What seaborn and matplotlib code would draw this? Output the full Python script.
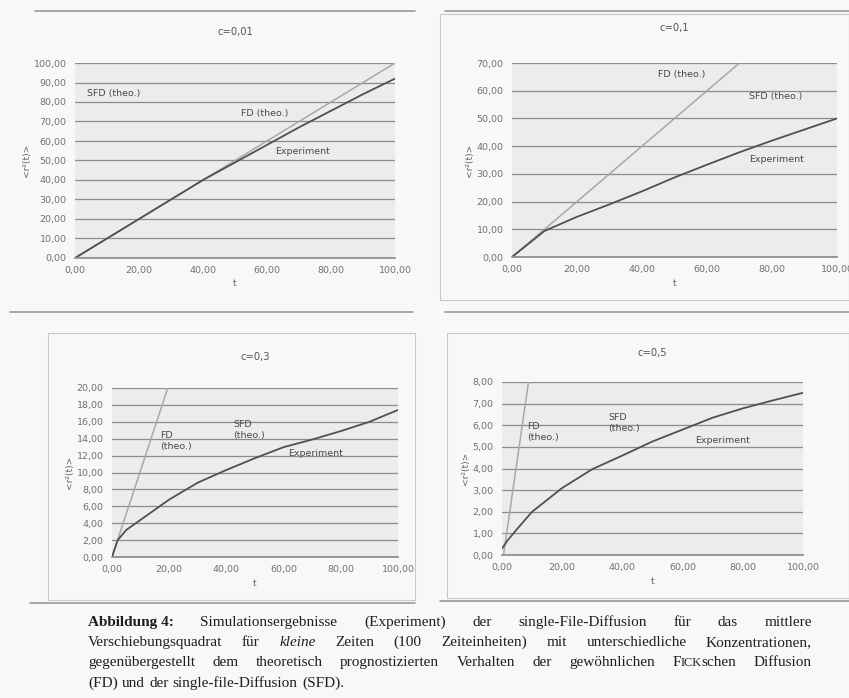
import numpy as np
import pandas as pd
import seaborn as sns
import matplotlib.pyplot as plt
from matplotlib.lines import Line2D
from matplotlib.patches import Rectangle

# ---- data ----
titles = ['c=0,01', 'c=0,1', 'c=0,3', 'c=0,5']

t1 = [0, 10, 20, 30, 40, 50, 60, 70, 80, 90, 100]
exp1 = [0, 10, 20, 30, 40, 49, 58, 67, 75.5, 84, 92]
fd1_t = [0, 100]
fd1 = [0, 100]

t2 = [0, 10, 20, 30, 40, 50, 60, 70, 80, 90, 100]
exp2 = [0, 9.4, 14.5, 19, 23.7, 28.7, 33.3, 37.8, 42, 46, 50]
fd2_t = [0, 70]
fd2 = [0, 70]

t3 = [0, 2, 5, 10, 15, 20, 30, 40, 50, 60, 70, 80, 90, 100]
exp3 = [0, 2.0, 3.2, 4.4, 5.6, 6.8, 8.8, 10.3, 11.7, 13.0, 13.9, 14.9, 16.0, 17.4]
fd3_t = [0, 19.5]
fd3 = [0, 20]

t4 = [0, 2, 5, 10, 20, 30, 40, 50, 60, 70, 80, 90, 100]
exp4 = [0.3, 0.7, 1.2, 2.0, 3.1, 3.97, 4.6, 5.25, 5.8, 6.35, 6.78, 7.15, 7.5]
fd4_t = [0.5, 8.8]
fd4 = [0, 8]

ymax = [100, 70, 20, 8]
ystep = [10, 10, 2, 1]

# label positions (t, value) for the in-plot annotations
lab_fd = [(52, 74), (45, 65.7), (17, 13.7), (8.5, 5.7)]
lab_sfd = [(3.6, 84.6), (73, 57.9), (42.4, 15), (35.4, 6.1)]
lab_exp = [(62.5, 54.5), (73, 35.2), (61.6, 12.2), (64, 5.3)]

sns.set_theme(style='white')
plt.rcParams['font.family'] = ['DejaVu Sans']

W, H = 849, 698
fig = plt.figure(figsize=(W / 100, H / 100), dpi=100, facecolor='#f8f8f6')

def px_rect(l, t, r, b):
    return [l / W, 1 - b / H, (r - l) / W, (b - t) / H]

rects = [px_rect(75, 63, 395, 258), px_rect(512, 63, 837, 257),
         px_rect(112, 388, 398, 557), px_rect(502, 382, 803, 555)]
title_y = [32, 28, 357, 353]
two_line = [False, False, True, True]

series = [(t1, exp1, fd1_t, fd1), (t2, exp2, fd2_t, fd2),
          (t3, exp3, fd3_t, fd3), (t4, exp4, fd4_t, fd4)]

tick_fmt = lambda v: f'{v:.2f}'.replace('.', ',')

for i, r in enumerate(rects):
    ax = fig.add_axes(r)
    ax.set_facecolor('#ececea')
    t, e, ft, f = series[i]
    exp_df = pd.DataFrame({'t': t, 'r2': e})
    fd_df = pd.DataFrame({'t': ft, 'r2': f})
    sns.lineplot(data=fd_df, x='t', y='r2', ax=ax, color='#a8a8a8', lw=1.1)
    sns.lineplot(data=exp_df, x='t', y='r2', ax=ax, color='#505050', lw=1.3)
    ax.set_xlim(0, 100)
    ax.set_ylim(0, ymax[i])
    yt = np.arange(0, ymax[i] + 0.001, ystep[i])
    ax.set_yticks(yt)
    ax.set_yticklabels([tick_fmt(v) for v in yt])
    xt = np.arange(0, 101, 20)
    ax.set_xticks(xt)
    ax.set_xticklabels([tick_fmt(v) for v in xt])
    ax.tick_params(labelsize=6.8, colors='#707070', length=0, pad=6)
    ax.yaxis.grid(True, color='#8c8c8c', lw=0.9)
    ax.set_axisbelow(True)
    for s in ['top', 'right', 'left']:
        ax.spines[s].set_visible(False)
    ax.spines['bottom'].set_color('#8c8c8c')
    ax.set_xlabel('t', fontsize=6.5, color='#606060', labelpad=3)
    ax.set_ylabel('<r²(t)>', fontsize=6.5, color='#606060', labelpad=2)
    fig.text((r[0] + r[2] / 2), 1 - title_y[i] / H, titles[i],
             ha='center', va='center', fontsize=7.2, color='#555555')
    fd_txt = 'FD\n(theo.)' if two_line[i] else 'FD (theo.)'
    sfd_txt = 'SFD\n(theo.)' if two_line[i] else 'SFD (theo.)'
    kw = dict(fontsize=6.8, color='#4a4a4a', va='center', ha='left',
              linespacing=1.3)
    ax.text(*lab_fd[i], fd_txt, **kw)
    ax.text(*lab_sfd[i], sfd_txt, **kw)
    ax.text(*lab_exp[i], 'Experiment', **kw)

# scan artefacts: separator rules and frames of the pasted charts
def hline(y, x0, x1, c='#9a9a9a', lw=1.2):
    fig.add_artist(Line2D([x0 / W, x1 / W], [1 - y / H, 1 - y / H],
                          color=c, lw=lw))

hline(11, 35, 415)
hline(11, 445, 849)
hline(312, 10, 413)
hline(312, 445, 849)
hline(603, 30, 415)
hline(601, 440, 849)
for l, t, rr, b in [(48, 333, 415, 600), (447, 333, 849, 598), (440, 14, 849, 300)]:
    fig.add_artist(Rectangle((l / W, 1 - b / H), (rr - l) / W, (b - t) / H,
                             fill=False, ec='#c8c8c8', lw=0.8))

# ---- caption (justified lines) ----
serif = 'Liberation Serif'
N, B, I, S = 'n', 'b', 'i', 's'
cap_lines = [
    [[('Abbildung 4:', B)], [('Simulationsergebnisse', N)], [('(Experiment)', N)],
     [('der', N)], [('single-File-Diffusion', N)], [('für', N)], [('das', N)], [('mittlere', N)]],
    [[('Verschiebungsquadrat', N)], [('für', N)], [('kleine', I)], [('Zeiten', N)],
     [('(100', N)], [('Zeiteinheiten)', N)], [('mit', N)], [('unterschiedliche', N)],
     [('Konzentrationen,', N)]],
    [[('gegenübergestellt', N)], [('dem', N)], [('theoretisch', N)], [('prognostizierten', N)],
     [('Verhalten', N)], [('der', N)], [('gewöhnlichen', N)],
     [('F', N), ('ICK', S), ('schen', N)], [('Diffusion', N)]],
    [[('(FD)', N)], [('und', N)], [('der', N)], [('single-file-Diffusion', N)], [('(SFD).', N)]],
]
cap_y = [621, 641, 661, 682]
cap_x0, cap_x1 = 88, 812
fs = 11

renderer = fig.canvas.get_renderer()

def make_seg(txt, st):
    kw = dict(fontsize=fs * 0.8 if st == S else fs, family=serif, color='#1e1e1e',
              va='baseline', ha='left')
    if st == B:
        kw['weight'] = 'bold'
    if st == I:
        kw['style'] = 'italic'
    return fig.text(0, 0, txt, **kw)

space_w = make_seg(' ', N).get_window_extent(renderer).width
for li, words in enumerate(cap_lines):
    arts = []
    widths = []
    for w in words:
        segs = [make_seg(txt, st) for txt, st in w]
        ws = [s.get_window_extent(renderer).width for s in segs]
        arts.append((segs, ws))
        widths.append(sum(ws))
    if li < len(cap_lines) - 1:
        gap = (cap_x1 - cap_x0 - sum(widths)) / (len(words) - 1)
    else:
        gap = space_w * 1.1
    x = cap_x0
    yb = 1 - (cap_y[li] + 5) / H
    for segs, ws in arts:
        for s, wd in zip(segs, ws):
            s.set_position((x / W, yb))
            x += wd
        x += gap

fig.savefig('out.png', dpi=100, facecolor=fig.get_facecolor())
